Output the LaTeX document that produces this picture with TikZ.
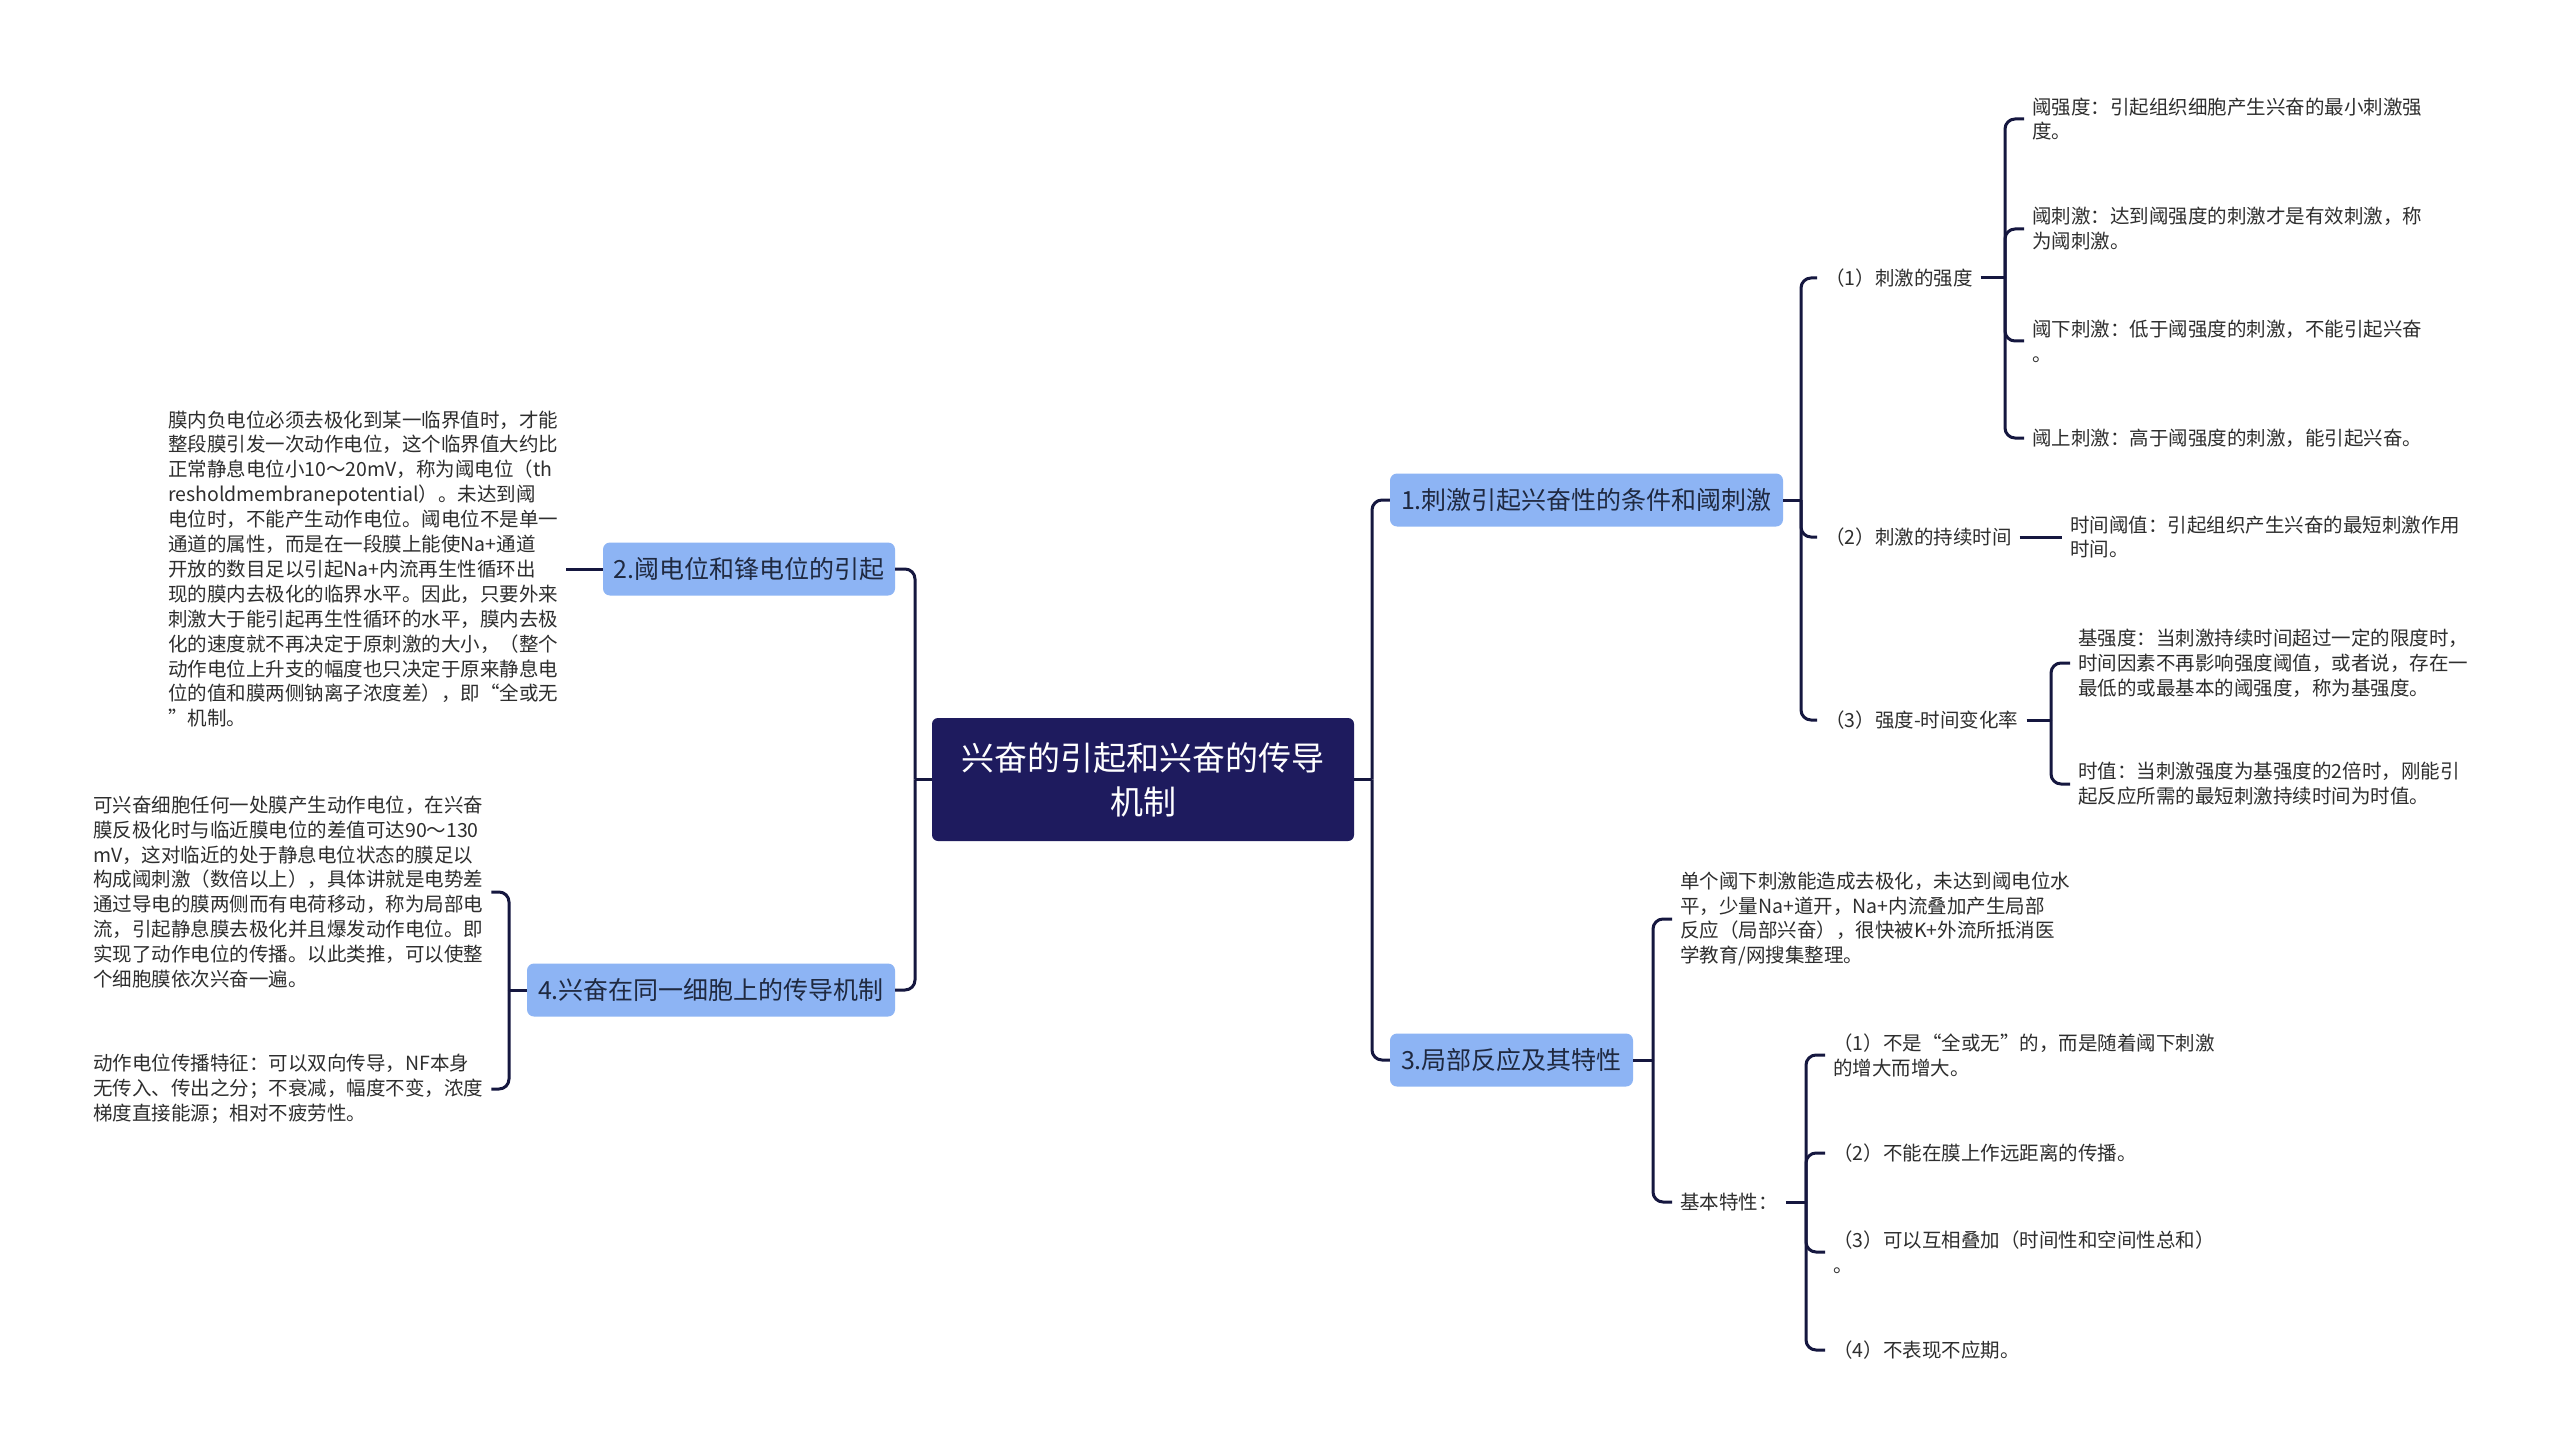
\documentclass[tikz,border=0pt]{standalone}
\usepackage{fontspec}
\setmainfont{Noto Sans CJK SC}
\definecolor{lineC}{HTML}{15173F}
\definecolor{rootC}{HTML}{1E1B5E}
\definecolor{branchC}{HTML}{8DB4F4}
\definecolor{branchT}{HTML}{1F2940}
\definecolor{txtC}{HTML}{2E2E2E}
\tikzset{
  conn/.style={draw=lineC, line width=3pt, rounded corners=10pt},
  rootbox/.style={fill=rootC, rounded corners=6pt, text=white, align=center,
    font=\fontsize{33}{44}\selectfont, minimum width=422pt, minimum height=123pt, inner sep=0pt},
  branchbox/.style={fill=branchC, rounded corners=7pt, text=branchT,
    font=\fontsize{25}{30}\selectfont, minimum height=53pt, inner sep=0pt},
  leaf/.style={font=\fontsize{19.5}{24.9}\selectfont, text=txtC, align=left,
    inner xsep=8pt, inner ysep=0pt},
}
\begin{document}
\begin{tikzpicture}[x=1pt,y=-1pt]
\useasboundingbox[fill=white] (0,0) rectangle (2560,1455);

% root
\node[rootbox] (root) at (1143,779.5) {兴奋的引起和兴奋的传导\\机制};

% main branches
\node[branchbox, minimum width=393pt] (b1) at (1586.5,500) {1.刺激引起兴奋性的条件和阈刺激};
\node[branchbox, minimum width=243pt] (b3) at (1511.5,1060) {3.局部反应及其特性};
\node[branchbox, minimum width=292pt] (b2) at (749,569) {2.阈电位和锋电位的引起};
\node[branchbox, minimum width=368pt] (b4) at (711,990) {4.兴奋在同一细胞上的传导机制};

% junctions
\coordinate (rj) at (1372,779.5);
\coordinate (lj) at (915,779.5);
\coordinate (j1) at (1801,500);
\coordinate (j11) at (2005,278);
\coordinate (j13) at (2051,720);
\coordinate (j3) at (1653,1060);
\coordinate (j32) at (1806,1202);
\coordinate (j4) at (509,990);

% branch 1 children
\node[leaf, anchor=west] (s1) at (1817,278) {（1）刺激的强度};
\node[leaf, anchor=west] (s2) at (1817,537) {（2）刺激的持续时间};
\node[leaf, anchor=west] (s3) at (1817,720) {（3）强度-时间变化率};

\node[leaf, anchor=west] (l11) at (2024,119) {阈强度：引起组织细胞产生兴奋的最小刺激强\\度。};
\node[leaf, anchor=west] (l12) at (2024,229) {阈刺激：达到阈强度的刺激才是有效刺激，称\\为阈刺激。};
\node[leaf, anchor=west] (l13) at (2024,341) {阈下刺激：低于阈强度的刺激，不能引起兴奋\\。};
\node[leaf, anchor=west] (l14) at (2024,438) {阈上刺激：高于阈强度的刺激，能引起兴奋。};

\node[leaf, anchor=west] (l21) at (2062,537) {时间阈值：引起组织产生兴奋的最短刺激作用\\时间。};

\node[leaf, anchor=west] (l31) at (2070,663) {基强度：当刺激持续时间超过一定的限度时，\\时间因素不再影响强度阈值，或者说，存在一\\最低的或最基本的阈强度，称为基强度。};
\node[leaf, anchor=west] (l32) at (2070,784) {时值：当刺激强度为基强度的2倍时，刚能引\\起反应所需的最短刺激持续时间为时值。};

% branch 3 children
\node[leaf, anchor=west] (c1) at (1672,919) {单个阈下刺激能造成去极化，未达到阈电位水\\平，少量Na+道开，Na+内流叠加产生局部\\反应（局部兴奋），很快被K+外流所抵消医\\学教育/网搜集整理。};
\node[leaf, anchor=west] (c2) at (1672,1202) {基本特性：};
\node[leaf, anchor=west] (c21) at (1825,1055) {（1）不是“全或无”的，而是随着阈下刺激\\的增大而增大。};
\node[leaf, anchor=west] (c22) at (1825,1153) {（2）不能在膜上作远距离的传播。};
\node[leaf, anchor=west] (c23) at (1825,1252) {（3）可以互相叠加（时间性和空间性总和）\\。};
\node[leaf, anchor=west] (c24) at (1825,1350) {（4）不表现不应期。};

% branch 2 leaf
\node[leaf, anchor=west] (L2) at (160,569) {膜内负电位必须去极化到某一临界值时，才能\\整段膜引发一次动作电位，这个临界值大约比\\正常静息电位小10～20mV，称为阈电位（th\\resholdmembranepotential）。未达到阈\\电位时，不能产生动作电位。阈电位不是单一\\通道的属性，而是在一段膜上能使Na+通道\\开放的数目足以引起Na+内流再生性循环出\\现的膜内去极化的临界水平。因此，只要外来\\刺激大于能引起再生性循环的水平，膜内去极\\化的速度就不再决定于原刺激的大小，（整个\\动作电位上升支的幅度也只决定于原来静息电\\位的值和膜两侧钠离子浓度差），即“全或无\\”机制。};

% branch 4 leaves
\node[leaf, anchor=west] (L4a) at (85,892) {可兴奋细胞任何一处膜产生动作电位，在兴奋\\膜反极化时与临近膜电位的差值可达90～130\\mV，这对临近的处于静息电位状态的膜足以\\构成阈刺激（数倍以上），具体讲就是电势差\\通过导电的膜两侧而有电荷移动，称为局部电\\流，引起静息膜去极化并且爆发动作电位。即\\实现了动作电位的传播。以此类推，可以使整\\个细胞膜依次兴奋一遍。};
\node[leaf, anchor=west] (L4b) at (85,1089) {动作电位传播特征：可以双向传导，NF本身\\无传入、传出之分；不衰减，幅度不变，浓度\\梯度直接能源；相对不疲劳性。};

% connectors: root
\draw[conn] (root.east) -- (rj);
\draw[conn] (rj) |- (b1.west);
\draw[conn] (rj) |- (b3.west);
\draw[conn] (root.west) -- (lj);
\draw[conn] (lj) |- (b2.east);
\draw[conn] (lj) |- (b4.east);

% branch 1
\draw[conn] (b1.east) -- (j1);
\draw[conn] (j1) |- (s1.west);
\draw[conn] (j1) |- (s2.west);
\draw[conn] (j1) |- (s3.west);
\draw[conn] (s1.east) -- (j11);
\draw[conn] (j11) |- (l11.west);
\draw[conn] (j11) |- (l12.west);
\draw[conn] (j11) |- (l13.west);
\draw[conn] (j11) |- (l14.west);
\draw[conn] (s2.east) -- (l21.west |- s2.east);
\draw[conn] (s3.east) -- (j13);
\draw[conn] (j13) |- (l31.west);
\draw[conn] (j13) |- (l32.west);

% branch 3
\draw[conn] (b3.east) -- (j3);
\draw[conn] (j3) |- (c1.west);
\draw[conn] (j3) |- (c2.west);
\draw[conn] (c2.east) -- (j32);
\draw[conn] (j32) |- (c21.west);
\draw[conn] (j32) |- (c22.west);
\draw[conn] (j32) |- (c23.west);
\draw[conn] (j32) |- (c24.west);

% branch 2
\draw[conn] (b2.west) -- (L2.east |- b2.west);

% branch 4
\draw[conn] (b4.west) -- (j4);
\draw[conn] (j4) |- (L4a.east);
\draw[conn] (j4) |- (L4b.east);
\end{tikzpicture}
\end{document}
